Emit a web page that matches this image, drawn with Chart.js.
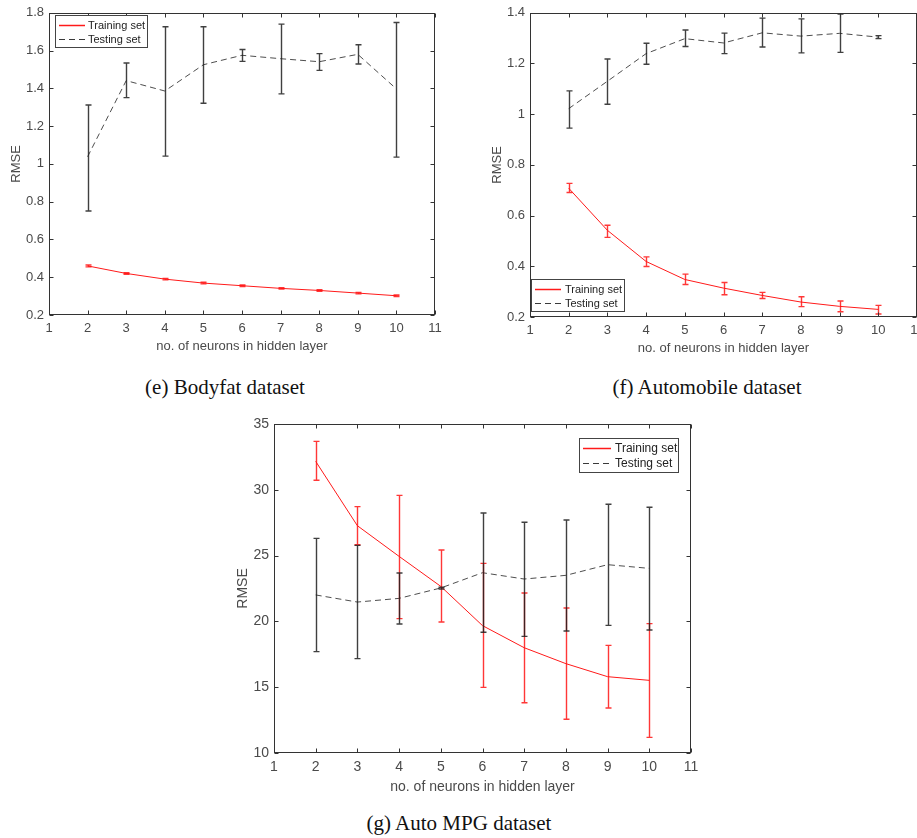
<!DOCTYPE html>
<html><head><meta charset="utf-8">
<script src="https://cdn.jsdelivr.net/npm/chart.js@4/dist/chart.umd.min.js"></script>
<style>
html,body{margin:0;padding:0;background:#fff;width:917px;height:838px;overflow:hidden;position:relative}
canvas{position:absolute}
.cap{position:absolute;font-family:"Liberation Serif","Times New Roman",serif;font-size:21px;color:#111;white-space:nowrap;transform:translate(-50%,-50%)}
</style></head><body>
<canvas id="ce" width="450" height="360" style="left:0px;top:0px"></canvas>
<canvas id="cf" width="480" height="360" style="left:460px;top:0px"></canvas>
<canvas id="cg" width="520" height="400" style="left:200px;top:405px"></canvas>
<div class="cap" style="left:225px;top:387px">(e) Bodyfat dataset</div>
<div class="cap" style="left:707px;top:387px">(f) Automobile dataset</div>
<div class="cap" style="left:459px;top:823px">(g) Auto MPG dataset</div>
<script>
// ---- data ----
const neurons = [2,3,4,5,6,7,8,9,10];
const xTicks = [1,2,3,4,5,6,7,8,9,10,11];
const seriesLabels = ['Training set','Testing set'];
const xTitle = 'no. of neurons in hidden layer';
const yTitle = 'RMSE';

// (e) Bodyfat
const eYTicks = [0.2,0.4,0.6,0.8,1,1.2,1.4,1.6,1.8];
const eTrainMean = [0.460,0.420,0.390,0.369,0.355,0.341,0.330,0.316,0.302];
const eTrainLow  = [0.455,0.416,0.386,0.365,0.351,0.338,0.326,0.312,0.298];
const eTrainHigh = [0.465,0.424,0.394,0.373,0.359,0.344,0.334,0.320,0.306];
const eTestMean  = [1.038,1.441,1.386,1.525,1.575,1.557,1.541,1.580,1.397];
const eTestLow   = [0.751,1.351,1.041,1.321,1.543,1.371,1.495,1.529,1.036];
const eTestHigh  = [1.312,1.534,1.726,1.726,1.606,1.740,1.584,1.631,1.749];

// (f) Automobile
const fYTicks = [0.2,0.4,0.6,0.8,1,1.2,1.4];
const fTrainMean = [0.708,0.542,0.419,0.348,0.314,0.285,0.259,0.242,0.230];
const fTrainLow  = [0.691,0.514,0.399,0.328,0.288,0.273,0.241,0.221,0.212];
const fTrainHigh = [0.727,0.562,0.437,0.369,0.336,0.297,0.280,0.263,0.246];
const fTestMean  = [1.022,1.130,1.239,1.298,1.281,1.321,1.308,1.319,1.304];
const fTestLow   = [0.945,1.039,1.197,1.267,1.239,1.265,1.242,1.244,1.298];
const fTestHigh  = [1.092,1.218,1.280,1.332,1.320,1.379,1.376,1.395,1.310];

// (g) Auto MPG
const gYTicks = [10,15,20,25,30,35];
const gTrainMean = [32.16,27.27,24.94,22.66,19.68,18.00,16.79,15.80,15.52];
const gTrainLow  = [30.72,25.83,20.21,19.95,14.99,13.82,12.56,13.42,11.19];
const gTrainHigh = [33.68,28.72,29.58,25.43,24.41,22.16,21.02,18.18,19.83];
const gTestMean  = [22.01,21.47,21.75,22.54,23.70,23.22,23.50,24.31,24.03];
const gTestLow   = [17.70,17.17,19.80,22.46,19.17,18.86,19.27,19.70,19.35];
const gTestHigh  = [26.31,25.78,23.68,22.60,28.24,27.53,27.71,28.90,28.67];

// ---- styling / plugins ----
const RED = '#ff1a1a';
const DARK = '#3a3a3a';
const AXIS = '#333333';
const TXT = '#4a4a4a';
const FONT = 'Liberation Sans, Arial, Helvetica, sans-serif';

const errorBars = {
  id:'errorBars',
  afterDatasetsDraw(chart){
    const {ctx, scales:{x,y}} = chart;
    chart.data.datasets.forEach(ds=>{
      if(!ds.errLow) return;
      ctx.save();
      ctx.strokeStyle = ds.errColor; ctx.lineWidth = 1.4;
      ds.data.forEach((p,j)=>{
        const px = Math.round(x.getPixelForValue(p.x))+0.5;
        const lo = y.getPixelForValue(ds.errLow[j]);
        const hi = y.getPixelForValue(ds.errHigh[j]);
        ctx.beginPath();
        ctx.moveTo(px,lo); ctx.lineTo(px,hi);
        ctx.moveTo(px-3,lo); ctx.lineTo(px+3,lo);
        ctx.moveTo(px-3,hi); ctx.lineTo(px+3,hi);
        ctx.stroke();
      });
      ctx.restore();
    });
  }
};

const axesBox = {
  id:'axesBox',
  afterDraw(chart){
    const {ctx, chartArea:a, scales:{x,y}} = chart;
    ctx.save();
    ctx.strokeStyle = AXIS; ctx.lineWidth = 1;
    const L = Math.round(a.left)+0.5, R = Math.round(a.right)-0.5, T = Math.round(a.top)+0.5, B = Math.round(a.bottom)-0.5;
    ctx.strokeRect(L,T,R-L,B-T);
    ctx.beginPath();
    x.ticks.forEach(t=>{
      const px = Math.round(x.getPixelForValue(t.value))+0.5;
      ctx.moveTo(px,B); ctx.lineTo(px,B-4);
      ctx.moveTo(px,T); ctx.lineTo(px,T+4);
    });
    y.ticks.forEach(t=>{
      const py = Math.round(y.getPixelForValue(t.value))+0.5;
      ctx.moveTo(L,py); ctx.lineTo(L+4,py);
      ctx.moveTo(R,py); ctx.lineTo(R-4,py);
    });
    ctx.stroke();
    ctx.restore();
  }
};

const boxLegend = {
  id:'boxLegend',
  afterDraw(chart, args, o){
    if(!o || o.x===undefined) return;
    const ctx = chart.ctx;
    ctx.save();
    ctx.fillStyle='#fff';
    ctx.fillRect(o.x,o.y,o.w,o.h);
    ctx.strokeStyle='#444'; ctx.lineWidth=1;
    ctx.strokeRect(o.x+0.5,o.y+0.5,o.w,o.h);
    ctx.font = o.fontSize+'px '+FONT;
    ctx.textBaseline='middle'; ctx.textAlign='left';
    chart.data.datasets.forEach((ds,i)=>{
      const cy = Math.round(o.y + o.rowY[i])+0.5;
      ctx.strokeStyle = ds.borderColor; ctx.lineWidth = ds.legendWidth || 1;
      ctx.setLineDash(ds.borderDash || []);
      ctx.beginPath(); ctx.moveTo(o.x+o.lineX0,cy); ctx.lineTo(o.x+o.lineX1,cy); ctx.stroke();
      ctx.setLineDash([]);
      ctx.fillStyle = '#222';
      ctx.fillText(ds.label, o.x+o.textX, cy);
    });
    ctx.restore();
  }
};

function makeChart(id, o){
  const fs = o.fontSize;
  return new Chart(document.getElementById(id), {
    type:'line',
    data:{datasets:[
      {label:seriesLabels[0], data:neurons.map((n,i)=>({x:n,y:o.trMean[i]})),
        borderColor:RED, borderWidth:1, pointRadius:0, tension:0, fill:false,
        errLow:o.trLow, errHigh:o.trHigh, errColor:'rgba(255,20,20,0.85)', legendWidth:1.5},
      {label:seriesLabels[1], data:neurons.map((n,i)=>({x:n,y:o.teMean[i]})),
        borderColor:DARK, borderWidth:0.9, borderDash:[6,4], pointRadius:0, tension:0, fill:false,
        errLow:o.teLow, errHigh:o.teHigh, errColor:'rgba(30,30,30,0.85)', legendWidth:1}
    ]},
    options:{
      responsive:false, animation:false, devicePixelRatio:1,
      layout:{padding:{left:0,right:o.padR,top:o.padT,bottom:0}},
      plugins:{legend:{display:false}, tooltip:{enabled:false}, boxLegend:o.legend},
      scales:{
        x:{type:'linear', min:1, max:11,
          afterBuildTicks:s=>{s.ticks = xTicks.map(v=>({value:v}));},
          afterFit:s=>{s.height = o.xH;},
          grid:{display:false, drawTicks:false}, border:{display:false},
          ticks:{color:TXT, font:{family:FONT,size:fs}, padding:o.xTickPad, maxRotation:0, autoSkip:false, callback:v=>String(v)},
          title:{display:true, text:xTitle, color:TXT, font:{family:FONT,size:fs}, padding:{top:0,bottom:o.xTitlePad}}
        },
        y:{type:'linear', min:o.yMin, max:o.yMax,
          afterBuildTicks:s=>{s.ticks = o.yTicks.map(v=>({value:v}));},
          afterFit:s=>{s.width = o.yW;},
          grid:{display:false, drawTicks:false}, border:{display:false},
          ticks:{color:TXT, font:{family:FONT,size:fs}, padding:5, autoSkip:false, callback:v=>String(v)},
          title:{display:true, text:yTitle, color:TXT, font:{family:FONT,size:fs}, padding:{top:o.yTitlePad,bottom:0}}
        }
      }
    },
    plugins:[errorBars, axesBox, boxLegend]
  });
}

makeChart('ce', {
  trMean:eTrainMean, trLow:eTrainLow, trHigh:eTrainHigh,
  teMean:eTestMean, teLow:eTestLow, teHigh:eTestHigh,
  yTicks:eYTicks, yMin:0.2, yMax:1.8, fontSize:13,
  padR:15, padT:12, yW:49, xH:45, xTickPad:6, xTitlePad:5.5, yTitlePad:8.9,
  legend:{x:55,y:15,w:92,h:32,rowY:[9.5,24],lineX0:4,lineX1:30,textX:33,fontSize:11}
});
makeChart('cf', {
  trMean:fTrainMean, trLow:fTrainLow, trHigh:fTrainHigh,
  teMean:fTestMean, teLow:fTestLow, teHigh:fTestHigh,
  yTicks:fYTicks, yMin:0.2, yMax:1.4, fontSize:13,
  padR:23, padT:11, yW:70, xH:43, xTickPad:6, xTitlePad:3.9, yTitlePad:29.5,
  legend:{x:71,y:279,w:93,h:32,rowY:[9.5,24],lineX0:4,lineX1:30,textX:34,fontSize:11}
});
makeChart('cg', {
  trMean:gTrainMean, trLow:gTrainLow, trHigh:gTrainHigh,
  teMean:gTestMean, teLow:gTestLow, teHigh:gTestHigh,
  yTicks:gYTicks, yMin:10, yMax:35, fontSize:14,
  padR:29, padT:19, yW:74, xH:52, xTickPad:6, xTitlePad:9.9, yTitlePad:34.9,
  legend:{x:379,y:33,w:99,h:34,rowY:[9.5,25],lineX0:4,lineX1:32,textX:36,fontSize:12}
});
</script>
</body></html>
